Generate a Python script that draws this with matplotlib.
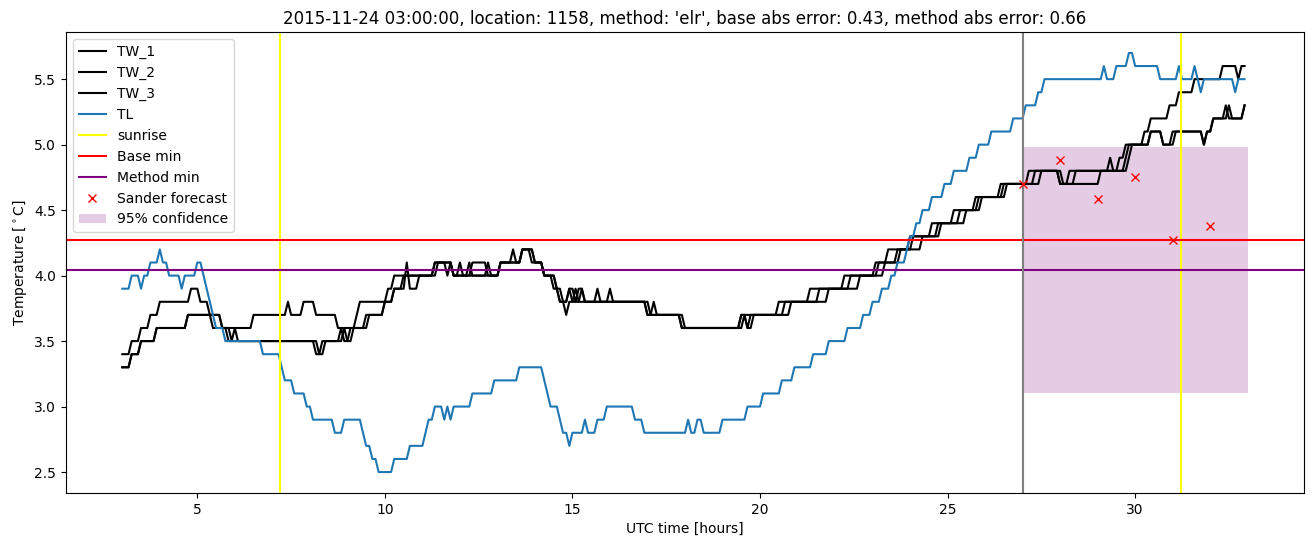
import numpy as np
import matplotlib
matplotlib.use('Agg')
import matplotlib.pyplot as plt

# 5-minute samples from 03:00 (hours since midnight of 2015-11-24)
n_samples = 360
t_start = 3.0

# series stored run-length encoded: value, number of 5-min samples
tl_vals = [3.9, 4.0, 3.9, 4.0, 4.1, 4.2, 4.1, 4.0, 3.9, 4.0, 4.1, 4.0, 3.9, 3.8, 3.7, 3.6, 3.5, 3.4, 3.3, 3.2,
           3.1, 3.0, 2.9, 2.8, 2.9, 2.8, 2.7, 2.6, 2.5, 2.6, 2.7, 2.8, 2.9, 3.0, 2.9, 3.0, 2.9, 3.0, 3.1, 3.2,
           3.3, 3.2, 3.1, 3.0, 2.9, 2.8, 2.7, 2.8, 2.9, 2.8, 2.9, 3.0, 2.9, 2.8, 2.9, 2.8, 2.9, 2.8, 2.9, 3.0,
           3.1, 3.2, 3.3, 3.4, 3.5, 3.6, 3.7, 3.8, 3.9, 4.0, 4.1, 4.2, 4.3, 4.4, 4.5, 4.6, 4.7, 4.8, 4.9, 5.0,
           5.1, 5.2, 5.3, 5.4, 5.5, 5.6, 5.5, 5.6, 5.7, 5.6, 5.5, 5.6, 5.5, 5.6, 5.5, 5.4, 5.5, 5.4, 5.5]
tl_runs = [3, 3, 1, 2, 3, 1, 2, 4, 1, 4, 2, 1, 1, 1, 1, 3, 12, 6, 1, 3,
           4, 2, 7, 3, 6, 1, 2, 2, 5, 5, 5, 1, 2, 3, 1, 1, 1, 6, 7, 8,
           8, 1, 1, 3, 1, 2, 1, 4, 1, 3, 3, 9, 3, 14, 1, 2, 2, 6, 8, 5,
           6, 4, 6, 5, 6, 5, 3, 3, 3, 2, 3, 1, 2, 2, 3, 4, 3, 5, 3, 4,
           7, 4, 4, 2, 19, 1, 3, 4, 2, 8, 6, 1, 4, 1, 1, 1, 10, 1, 3]

tw1_vals = [3.4, 3.5, 3.6, 3.7, 3.8, 3.9, 3.8, 3.7, 3.6, 3.7, 3.8, 3.7, 3.8, 3.7, 3.6, 3.7, 3.8, 3.9, 4.0, 4.1,
            4.0, 4.1, 4.0, 4.1, 4.0, 4.1, 4.2, 4.1, 4.2, 4.1, 4.0, 3.9, 3.8, 3.9, 3.8, 3.9, 3.8, 3.9, 3.8, 3.9,
            3.8, 3.7, 3.6, 3.7, 3.8, 3.9, 4.0, 4.1, 4.2, 4.3, 4.4, 4.5, 4.6, 4.7, 4.8, 4.7, 4.8, 4.9, 4.8, 4.9,
            5.0, 5.1, 5.2, 5.3, 5.4, 5.5, 5.6, 5.5, 5.6]
tw1_runs = [3, 3, 3, 3, 10, 3, 3, 1, 13, 11, 1, 4, 4, 7, 6, 1, 9, 2, 13, 6,
            2, 1, 3, 5, 4, 4, 1, 2, 4, 3, 4, 1, 3, 2, 1, 2, 4, 1, 3, 1,
            11, 11, 19, 12, 10, 11, 10, 4, 7, 7, 7, 7, 8, 9, 10, 3, 13, 1, 2, 2,
            6, 2, 6, 3, 5, 9, 5, 1, 2]

tw2_vals = [3.3, 3.4, 3.5, 3.6, 3.7, 3.6, 3.5, 3.4, 3.5, 3.6, 3.5, 3.6, 3.7, 3.8, 3.9, 4.1, 3.9, 4.0, 4.1, 4.0,
            4.1, 4.0, 4.1, 4.2, 4.1, 4.0, 3.9, 3.8, 3.7, 3.8, 3.9, 3.8, 3.7, 3.8, 3.7, 3.6, 3.7, 3.6, 3.7, 3.8,
            3.9, 4.0, 4.1, 4.2, 4.3, 4.4, 4.5, 4.6, 4.7, 4.8, 4.7, 4.8, 4.9, 5.0, 5.1, 5.0, 5.1, 5.0, 5.1, 5.2,
            5.3, 5.2, 5.3]
tw2_runs = [3, 3, 5, 10, 11, 2, 29, 2, 5, 1, 2, 5, 6, 3, 4, 1, 3, 6, 5, 11,
            1, 3, 7, 4, 3, 4, 2, 1, 1, 2, 1, 22, 2, 1, 9, 19, 1, 1, 11, 11,
            10, 9, 6, 5, 8, 7, 6, 8, 10, 8, 5, 17, 1, 6, 4, 3, 10, 1, 2, 5,
            1, 4, 1]

tw3_vals = [3.3, 3.4, 3.5, 3.6, 3.7, 3.6, 3.5, 3.6, 3.5, 3.4, 3.5, 3.6, 3.5, 3.6, 3.7, 3.8, 3.9, 4.0, 4.1, 4.0,
            4.1, 4.0, 4.1, 4.0, 4.1, 4.2, 4.1, 4.0, 3.9, 3.8, 3.9, 3.8, 3.9, 3.8, 3.7, 3.6, 3.7, 3.6, 3.7, 3.8,
            3.9, 4.0, 4.1, 4.2, 4.3, 4.4, 4.5, 4.6, 4.7, 4.8, 4.7, 4.8, 4.9, 5.0, 5.1, 5.0, 5.1, 5.0, 5.1, 5.2,
            5.3, 5.2, 5.3]
tw3_runs = [3, 3, 5, 10, 11, 3, 1, 1, 25, 2, 7, 1, 2, 5, 5, 3, 3, 10, 4, 1,
            1, 5, 1, 9, 7, 3, 4, 3, 2, 3, 1, 3, 1, 21, 10, 19, 2, 2, 12, 12,
            10, 8, 5, 7, 6, 8, 5, 8, 11, 7, 12, 8, 1, 7, 4, 4, 9, 1, 2, 4,
            1, 5, 1]

sunrise = [7.21, 31.21]
base_min = 4.27
method_min = 4.04
forecast_start = 27.0
forecast_hours = [27, 28, 29, 30, 31, 32]
forecast_vals = [4.70, 4.88, 4.585, 4.75, 4.27, 4.375]
conf_hours = [27, 33]
conf_low = 3.10
conf_high = 4.98

t = t_start + np.arange(n_samples) / 12.0
tl = np.repeat(tl_vals, tl_runs)
tw1 = np.repeat(tw1_vals, tw1_runs)
tw2 = np.repeat(tw2_vals, tw2_runs)
tw3 = np.repeat(tw3_vals, tw3_runs)

fig, ax = plt.subplots(figsize=(13.15, 5.47), dpi=100)
fig.subplots_adjust(left=0.0502, right=0.9916, top=0.9415, bottom=0.0987)

ax.plot(t, tw1, color='black', label='TW_1')
ax.plot(t, tw2, color='black', label='TW_2')
ax.plot(t, tw3, color='black', label='TW_3')
ax.plot(t, tl, color='C0', label='TL')
for i, s in enumerate(sunrise):
    ax.axvline(s, color='yellow', label='sunrise' if i == 0 else None)
ax.axhline(base_min, color='red', label='Base min')
ax.axhline(method_min, color='purple', label='Method min')
ax.axvline(forecast_start, color='gray')
ax.plot(forecast_hours, forecast_vals, 'x', color='red', label='Sander forecast')
ax.fill_between(conf_hours, [conf_low, conf_low], [conf_high, conf_high],
                color='purple', alpha=0.2, linewidth=0, label='95% confidence')

ax.set_xlabel('UTC time [hours]')
ax.set_ylabel('Temperature [$^\\circ$C]')
ax.set_title("2015-11-24 03:00:00, location: 1158, method: 'elr', base abs error: 0.43, method abs error: 0.66")
ax.legend(loc='upper left')

plt.savefig('out.png', dpi=100)
